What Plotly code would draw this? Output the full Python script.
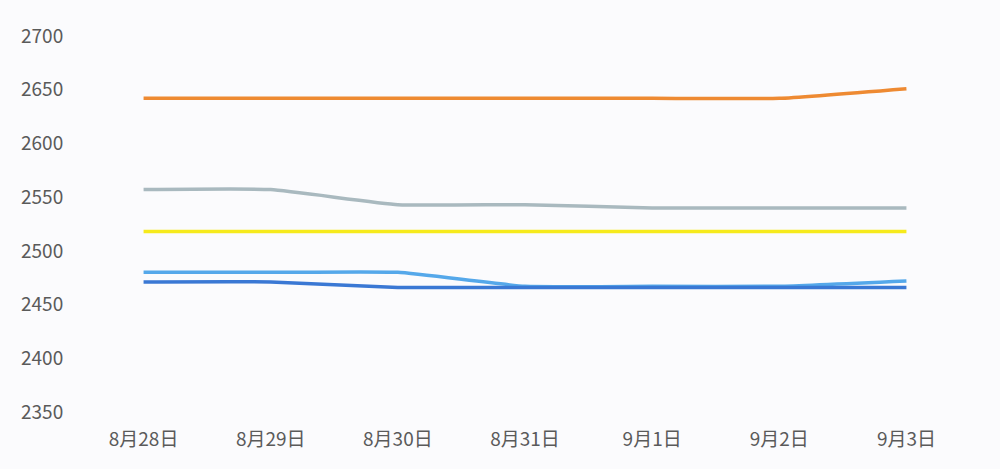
# %% Import libraries.
import plotly.graph_objects as go

# %% Data.
dates = ["8月28日", "8月29日", "8月30日", "8月31日", "9月1日", "9月2日", "9月3日"]
orange_vals = [2642, 2642, 2642, 2642, 2642, 2642, 2651]
gray_vals = [2557, 2557, 2543, 2543, 2540, 2540, 2540]
yellow_vals = [2518, 2518, 2518, 2518, 2518, 2518, 2518]
lightblue_vals = [2480, 2480, 2480, 2467, 2467, 2467, 2472]
darkblue_vals = [2471, 2471, 2466, 2466, 2466, 2466, 2466]
y_ticks = [2350, 2400, 2450, 2500, 2550, 2600, 2650, 2700]

series = [
    (orange_vals, "#ee8a32"),
    (gray_vals, "#a9b9bf"),
    (yellow_vals, "#f6ea1c"),
    (lightblue_vals, "#55a8ea"),
    (darkblue_vals, "#3a78d4"),
]

# %% Build figure.
fig = go.Figure()
for vals, color in series:
    fig.add_trace(
        go.Scatter(
            x=dates,
            y=vals,
            mode="lines",
            line=dict(color=color, width=3.5, shape="spline", smoothing=0.4),
            showlegend=False,
        )
    )

fig.update_layout(
    width=1000,
    height=469,
    margin=dict(l=80, r=30, t=36, b=57),
    paper_bgcolor="#fbfbfd",
    plot_bgcolor="#fbfbfd",
    font=dict(family="Noto Sans CJK SC, Noto Sans, sans-serif", size=19, color="#5a5a5a"),
)
fig.update_xaxes(
    range=[-0.5, 6.5],
    showgrid=False,
    zeroline=False,
    showline=False,
    ticks="outside",
    ticklen=10,
    tickcolor="rgba(0,0,0,0)",
)
fig.update_yaxes(
    range=[2350, 2700],
    tickvals=y_ticks,
    showgrid=False,
    zeroline=False,
    showline=False,
    ticks="outside",
    ticklen=12,
    tickcolor="rgba(0,0,0,0)",
)

# Drop the page margin so the figure sits at the window's top-left corner.
fig.write_html(
    "out.html",
    config={"displayModeBar": False},
    post_script="document.body.style.margin='0';document.body.style.background='#fbfbfd';",
)
